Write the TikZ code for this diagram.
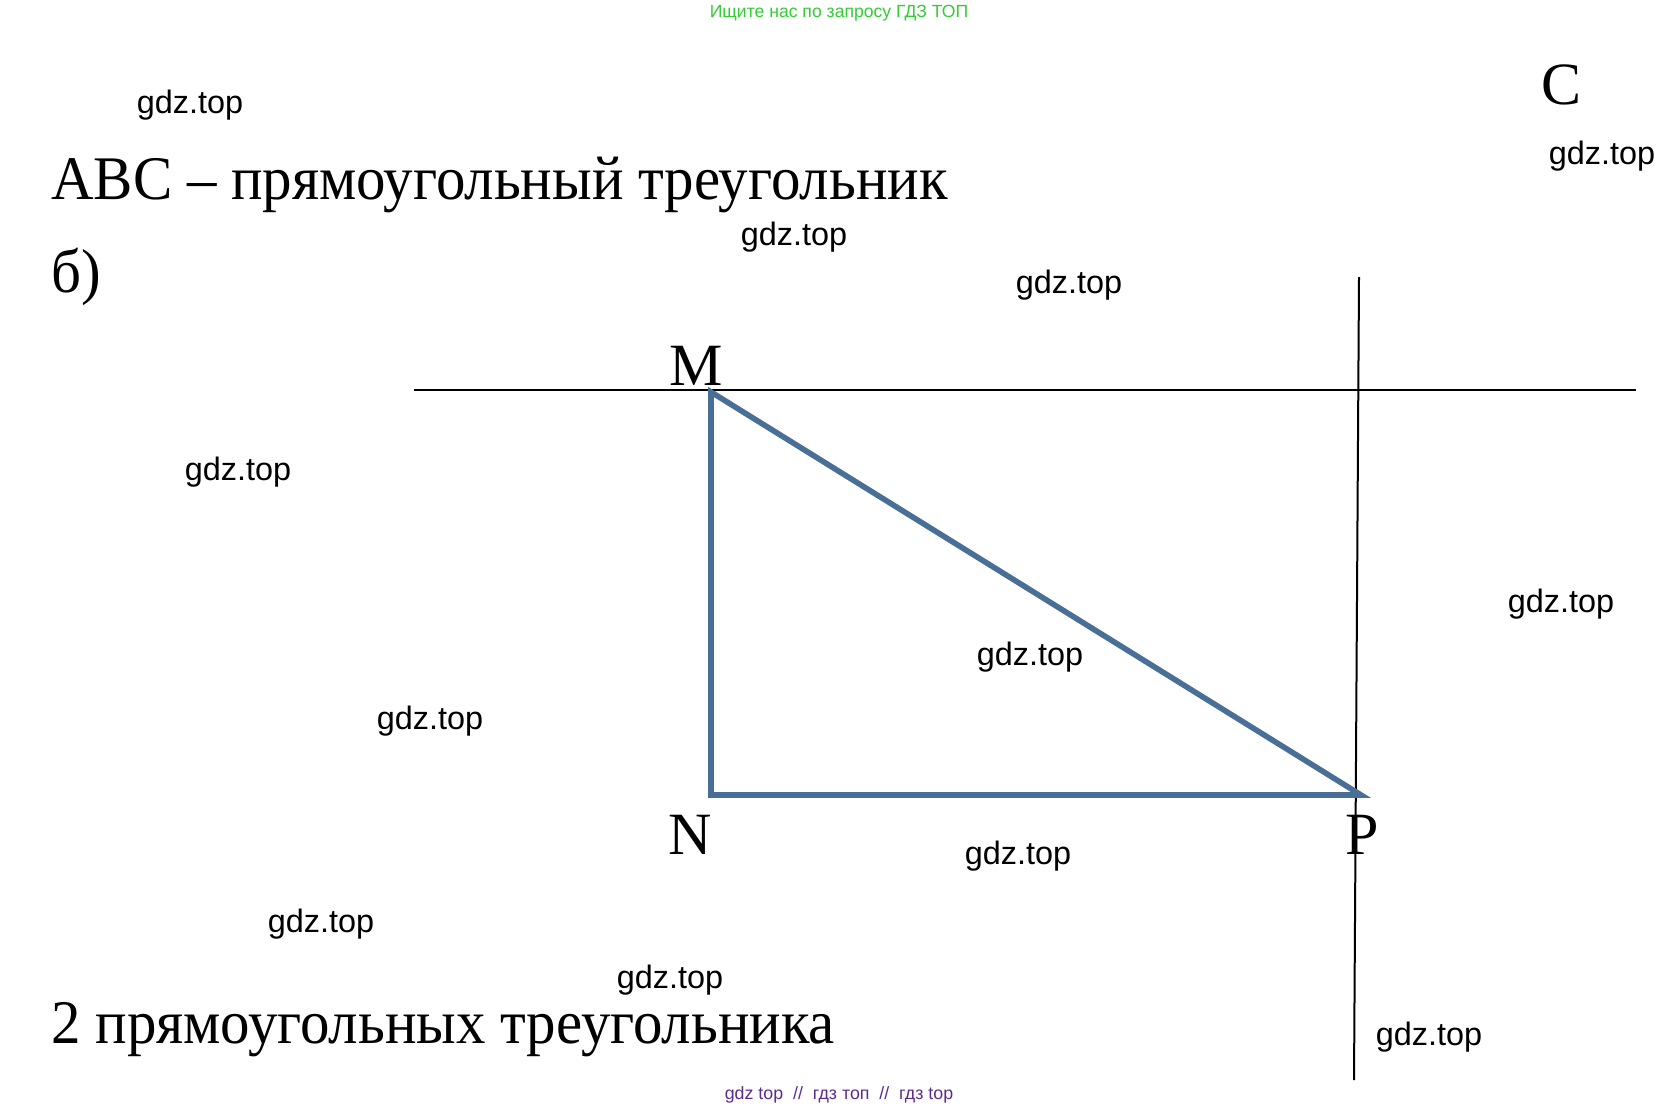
\documentclass[tikz,border=0pt]{standalone}
\usepackage{fontspec}
\setmainfont{Liberation Serif}
\newfontfamily\wmfont{Liberation Sans}
\usepackage{tikz}
\definecolor{steel}{HTML}{4A6F97}
\definecolor{gdzgreen}{HTML}{33CC33}
\definecolor{gdzpurple}{HTML}{5B2C8F}

\begin{document}
\begin{tikzpicture}[x=0.5pt,y=-0.5pt,every node/.style={inner sep=0pt},big/.style={font=\fontsize{31}{36}\selectfont,xscale=0.95},pt/.style={font=\fontsize{30}{34}\selectfont},wm/.style={font=\wmfont\fontsize{16.2}{18}\selectfont},side/.style={steel,line width=2.8pt,line join=miter}]
  \useasboundingbox (0,0) rectangle (1680,1109);
  \node[gdzgreen,font=\wmfont\fontsize{8.8}{11}\selectfont] (head) at (839,13) {Ищите нас по запросу ГДЗ ТОП};
  \node[gdzpurple,font=\wmfont\fontsize{8.9}{10}\selectfont] (foot) at (839,1095) {gdz top \ // \ гдз топ \ // \ гдз top};
  \node[big,anchor=west] (title) at (51,185) {ABC -- прямоугольный треугольник};
  \node[big,anchor=west] (part) at (51,277) {б)};
  \node[big,anchor=west] (answer) at (51,1030) {2 прямоугольных треугольника};
  % lines
  \coordinate (hl) at (414,390);
  \coordinate (hr) at (1636,390);
  \coordinate (vt) at (1359,277);
  \coordinate (vb) at (1354,1080);
  \draw[line width=1pt] (hl) -- (hr);
  \draw[line width=1pt] (vt) -- (vb);
  % triangle
  \coordinate (M) at (711,392);
  \coordinate (N) at (711,795);
  \coordinate (P) at (1361,795);
  \draw[side] (M) -- (N) -- (P) -- cycle;
  \node[pt] (lM) at (696,366) {M};
  \node[pt] (lN) at (690,835) {N};
  \node[pt] (lP) at (1362,835) {P};
  \node[pt] (lC) at (1561,85) {C};
  % watermarks
  \foreach \x/\y in {190/105,1602/156,794/237,1069/285,238/472,1561/604,1030/657,430/721,1018/856,321/924,670/980,1429/1037}
    \node[wm] at (\x,\y) {gdz.top};
\end{tikzpicture}
\end{document}
